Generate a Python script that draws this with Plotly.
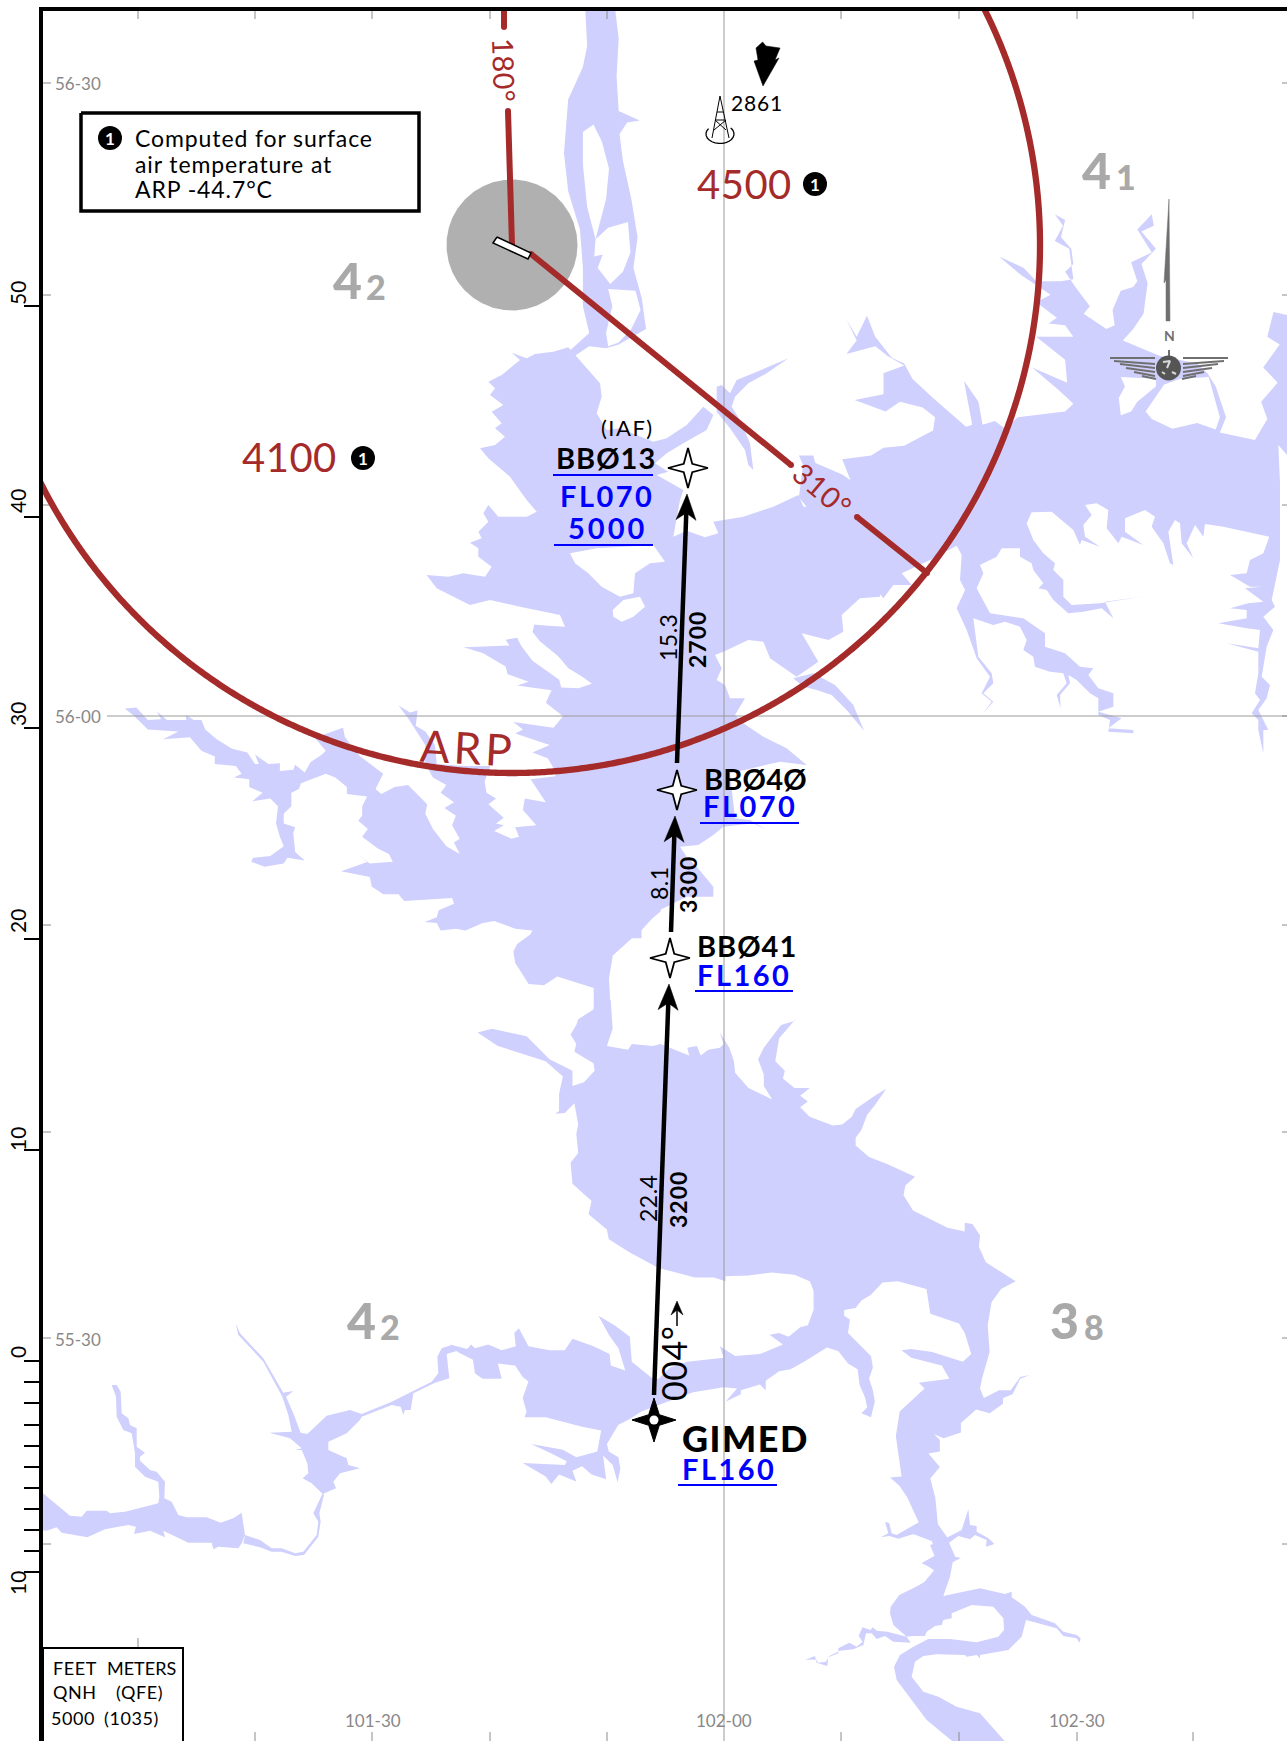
import math
import plotly.graph_objects as go

W, H = 1287, 1741
LAKE = "#CFD0FD"; BROWN = "#A52A2A"; BLUE = "#0000FF"; GREY = "#A9A9A9"; TICK = "#8C8C8C"
FONT = "Lato"

F1 = (0, 0, 2.376, 2.613)
F2 = (640, 0, 2.423, 2.613)
F6 = (620, 740, 3, 3)
F7 = (100, 500, 2.613, 2.613)
F8 = (450, 1000, 2.613, 2.613)
F9 = (30, 1250, 3, 3)
F10 = (800, 1240, 3, 3)
F11 = (850, 400, 3, 3)
F12 = (420, 340, 3, 3)

def z(f, pts):
    return [(f[0] + a / f[2], f[1] + b / f[3]) for a, b in pts]

north_channel = [(1390,10),(1460,10),(1470,100),(1465,200),(1470,290),(1520,315),(1490,320),(1472,350),(1480,420),(1500,520),(1515,620),(1505,700),(1525,780),(1535,860),(1470,900),(1440,910),(1400,905),(1365,930),(1355,915),(1400,870),(1385,800),(1385,700),(1378,600),(1350,500),(1340,400),(1350,260),(1385,175),(1395,120)]
north_isle_1 = [(1385,345),(1410,325),(1430,370),(1447,440),(1440,520),(1415,625),(1395,540),(1385,430)]
north_isle_2 = [(1415,625),(1445,595),(1492,580),(1498,660),(1480,710),(1450,742),(1420,700),(1432,665),(1412,670)]
north_isle_3 = [(1445,755),(1510,760),(1522,810),(1500,860),(1470,895),(1445,905),(1440,870),(1455,800)]

central = [(275,38),(320,55),(345,42),(400,35),(445,22),(470,50),(540,130),(545,170),(530,220),(560,270),(600,265),(700,305),(740,295),(800,255),(850,200),(880,225),(860,270),(790,310),(740,340),(705,370),(745,395),(710,405),(790,450),(780,480),(760,590),(800,572),(855,592),(895,580),(880,545),(970,530),(1060,500),(1135,465),(1150,500),(1380,500),(1380,770),(1320,775),(1265,825),(1270,875),(1225,900),(1145,880),(1195,965),(1130,1010),(1050,955),(1030,905),(985,900),(910,935),(885,945),(905,985),(890,1020),(915,1035),(930,1075),(975,1075),(945,1125),(970,1150),(1030,1190),(1100,1225),(1160,1275),(1050,1250),(900,1290),(850,1380),(520,1380),(520,1030),(445,985),(395,925),(345,855),(435,860),(420,825),(300,800),(210,780),(150,795),(50,745),(20,705),(85,710),(130,700),(195,710),(215,680),(175,650),(175,625),(150,608),(185,595),(175,575),(205,545),(190,520),(205,495),(235,530),(320,530),(350,515),(320,480),(270,410),(205,355),(180,325),(225,315),(255,290),(225,265),(245,250),(215,215),(250,195),(210,165),(225,145),(205,125),(245,105),(300,60)]
label_isle = [(450,640),(530,625),(700,615),(735,665),(690,670),(645,700),(640,760),(600,770),(545,740),(505,700),(465,670)]
round_isle = [(578,810),(610,780),(660,770),(675,800),(640,830),(605,845),(580,830)]
finger_north = [(890,140),(905,135),(930,160),(950,120),(1000,100),(1105,55),(1040,100),(985,130),(945,170),(935,200),(960,240),(990,310),(1000,390),(985,375),(975,330),(930,265),(890,215)]
finger_arc = [(1120,1015),(1180,1000),(1245,1035),(1300,1095),(1332,1172),(1280,1110),(1235,1065),(1190,1050),(1150,1040)]

west_central = [(1215,335),(1135,325),(1130,345),(1150,370),(1200,410),(1245,450),(1285,480),(1250,492),(1205,490),(1200,470),(1130,420),(1100,380),(1090,360),(1060,365),(1070,380),(950,385),(1000,400),(1060,435),(1065,455),(1120,475),(1090,485),(1180,497),(1165,530),(1210,565),(1185,595),(1080,580),(1105,600),(1085,610),(1175,640),(1130,660),(1170,675),(1185,700),(1190,722),(1125,730),(1165,790),(1110,780),(1105,810),(1140,850),(1085,855),(1095,880),(1075,885),(1030,865),(1055,850),(1035,845),(1055,830),(1015,795),(1035,780),(1010,765),(1005,735),(1020,695),(950,695),(880,690),(875,640),(850,605),(825,590),(830,550),(810,555),(780,537),(805,570),(825,600),(850,640),(850,690),(870,725),(905,745),(890,765),(925,790),(900,805),(930,825),(920,850),(940,885),(925,895),(940,925),(905,905),(870,860),(850,820),(855,795),(830,770),(805,745),(770,750),(735,768),(720,755),(740,715),(680,670),(640,620),(635,595),(580,615),(550,608),(590,655),(580,665),(550,685),(535,712),(510,692),(505,705),(470,708),(470,688),(440,690),(405,665),(415,690),(405,690),(385,660),(345,650),(305,625),(275,600),(265,575),(245,575),(225,562),(225,575),(175,575),(148,552),(160,573),(125,575),(95,542),(65,545),(90,565),(125,600),(205,605),(165,625),(235,620),(265,655),(300,670),(300,690),(355,695),(370,715),(350,725),(390,730),(390,750),(425,765),(398,787),(445,780),(465,800),(460,845),(470,880),(480,905),(445,930),(400,935),(395,945),(430,958),(480,950),(490,935),(535,942),(510,920),(505,870),(510,855),(480,845),(480,820),(500,800),(500,765),(520,755),(525,740),(590,715),(615,725),(645,750),(645,768),(698,775),(685,800),(685,825),(675,838),(700,860),(685,880),(725,910),(755,925),(765,945),(705,950),(670,925),(700,945),(630,970),(705,985),(710,1010),(740,1030),(780,1030),(795,1048),(920,1040),(925,1055),(885,1072),(880,1090),(848,1103),(880,1105),(890,1125),(930,1120),(955,1125),(1000,1105),(1030,1100),(1085,1120),(1130,1125),(1125,1135),(1090,1160),(1080,1180),(1085,1210),(1120,1265),(1160,1268),(1195,1245),(1290,1275),(1290,1340),(1335,1340),(1330,1250),(1340,1190),(1390,1145),(1415,1145),(1415,1115),(1465,1075),(1480,700),(1300,340)]
east_of_bb040 = [(0,615),(65,570),(120,510),(200,470),(280,470),(280,440),(230,380),(200,350),(180,320),(235,315),(280,285),(310,260),(400,250),(440,270),(390,240),(345,235),(330,100),(480,65),(558,75),(510,45),(450,10),(390,-5),(0,-100)]

east_north_shore = [(385,1300),(395,1215),(385,1190),(420,1190),(425,1210),(490,1240),(510,1255),(490,1200),(560,1190),(590,1170),(640,1165),(710,1125),(715,1090),(685,1065),(630,1050),(595,1075),(520,1045),(590,1030),(590,975),(640,955),(600,930),(570,905),(500,925),(525,890),(500,835),(525,880),(550,825),(570,880),(610,935),(640,950),(660,990),(710,1040),(790,1115),(805,1110),(785,995),(820,1050),(830,1110),(860,1100),(885,1120),(915,1090),(1030,1075),(1050,1055),(1015,1020),(950,960),(1035,1000),(1030,940),(960,880),(1050,880),(1030,850),(990,845),(1010,830),(960,790),(995,770),(925,720),(870,670),(930,700),(960,735),(1020,735),(1050,730),(1040,650),(1005,630),(1025,590),(1005,560),(1030,575),(1020,620),(1045,650),(1050,690),(1030,710),(1055,750),(1090,800),(1075,820),(1130,860),(1150,850),(1145,810),(1165,760),(1195,750),(1205,735),(1190,685),(1240,660),(1205,600),(1240,560),(1245,590),(1215,605),(1250,650),(1215,690),(1230,740),(1220,820),(1195,860),(1170,890),(1260,930),(1350,950),(1375,975),(1395,1010),(1420,1090),(1405,1130),(1490,1150),(1520,1095),(1505,1050),(1545,1000),(1510,960),(1550,900),(1520,880),(1535,815),(1575,825),(1575,1189)]
east_south_shore = [(1311,165),(1285,135),(1290,250),(1290,340),(1290,480),(1265,600),(1275,620),(1240,650),(1270,690),(1250,740),(1245,770),(1235,830),(1260,855),(1250,895),(1225,930),(1255,990),(1240,990),(1240,1060),(1225,990),(1225,960),(1205,940),(1230,900),(1215,880),(1225,820),(1225,755),(1130,730),(1225,745),(1230,690),(1190,685),(1105,670),(1190,655),(1190,630),(1140,625),(1195,610),(1240,605),(1185,565),(1235,560),(1200,560),(1140,525),(1190,520),(1200,480),(1240,460),(1258,410),(1120,380),(1065,372),(1060,410),(1035,375),(1010,430),(1030,475),(995,430),(990,370),(975,360),(955,395),(970,495),(960,490),(940,430),(905,380),(915,350),(885,330),(825,355),(825,395),(880,435),(815,410),(805,430),(770,385),(775,330),(740,310),(705,315),(725,345),(700,375),(705,410),(750,440),(695,420),(690,435),(670,390),(605,335),(545,337),(530,370),(550,420),(580,460),(615,490),(610,510),(640,540),(640,590),(665,615),(750,610),(875,590),(765,605),(790,655),(755,625),(700,635),(655,640),(610,600),(590,570),(565,565),(580,550),(550,510),(545,490),(510,470),(510,445),(455,445),(440,470),(390,495),(400,520),(380,565),(410,620),(420,640),(520,655),(585,700),(585,740),(645,760),(690,800),(730,805),(715,825),(745,865),(790,880),(790,920),(745,935),(815,955),(775,985),(850,990),(850,1000),(775,995),(780,960),(745,945),(745,895),(720,880),(680,840),(655,825),(660,850),(630,885),(632,925),(620,885),(650,850),(640,820),(600,815),(555,800),(550,770),(520,750),(530,720),(510,680),(465,665),(430,675),(370,655),(375,700),(385,770),(425,820),(430,850),(400,880),(430,905),(400,940),(425,905),(395,880),(420,830),(380,775),(350,690),(320,625),(345,570),(330,540),(335,465),(320,437),(245,478),(155,520),(185,555),(130,555),(100,595)]
east_isle_1 = [(1165,985),(1250,990),(1250,1010),(1205,1050),(1190,1075),(1165,1085),(1160,1040),(1175,1010)]
east_isle_2 = [(1225,1075),(1270,1005),(1310,990),(1378,985),(1405,1090),(1395,1122),(1350,1105),(1290,1120),(1240,1095)]

south_lake = [(380,0),(420,0),(425,75),(410,120),(465,130),(475,115),(530,120),(550,115),(625,145),(620,125),(645,120),(655,145),(675,130),(705,125),(715,115),(705,85),(730,125),(742,160),(745,190),(780,230),(842,260),(820,225),(820,195),(805,155),(820,125),(865,65),(900,55),(905,48),(860,100),(850,160),(875,185),(870,205),(900,230),(940,230),(915,250),(935,265),(915,280),(940,305),(1000,328),(1025,325),(1050,305),(1060,285),(1110,250),(1140,232),(1110,275),(1090,300),(1075,340),(1060,360),(1060,380),(1095,410),(1145,430),(1215,462),(1190,485),(1185,510),(1210,550),(1260,575),(1300,595),(1345,605),(1345,582),(1365,585),(1385,615),(1382,645),(1400,685),(1478,735),(1440,755),(1415,790),(1405,850),(1410,920),(1390,990),(1385,1015),(1395,1040),(1435,1020),(1465,1020),(1490,985),(1515,980),(1490,990),(1470,1030),(1445,1040),(1445,1055),(1410,1080),(1375,1070),(1335,1105),(1335,1130),(1290,1145),(1265,1135),(1280,1150),(1280,1180),(1250,1185),(1280,1220),(1255,1250),(1268,1300),(1275,1370),(1300,1405),(1305,1420),(1320,1455),(1335,1458),(1312,1470),(1300,1510),(1285,1555),(1165,1568),(1240,1520),(1265,1490),(1235,1470),(1270,1450),(1255,1400),(1225,1395),(1165,1400),(1225,1365),(1195,1300),(1175,1270),(1150,1248),(1180,1245),(1170,1180),(1165,1140),(1175,1075),(1240,1015),(1225,1000),(1305,990),(1285,955),(1205,935),(1180,915),(1205,912),(1260,920),(1340,945),(1362,925),(1345,870),(1330,845),(1255,820),(1245,755),(1170,735),(1130,738),(1100,770),(1075,785),(1060,805),(1030,810),(1030,825),(1045,835),(1040,870),(1100,930),(1105,960),(1095,990),(1105,1020),(1110,1050),(1100,1090),(1075,1080),(1090,1065),(1085,1040),(1070,1005),(1065,965),(1040,950),(1015,918),(985,908),(925,945),(890,965),(860,970),(825,995),(825,1020),(810,1005),(760,1020),(760,1030),(720,1050),(750,1015),(715,1012),(635,1025),(540,1060),(500,1075),(470,1095),(440,1110),(410,1160),(415,1180),(440,1195),(445,1225),(438,1260),(425,1215),(400,1190),(408,1252),(370,1240),(345,1218),(320,1230),(330,1258),(285,1240),(265,1265),(250,1245),(190,1210),(300,1215),(305,1205),(265,1185),(212,1160),(295,1175),(330,1195),(385,1180),(395,1125),(345,1115),(250,1090),(195,1090),(200,1075),(190,1040),(205,997),(190,985),(170,955),(125,950),(135,990),(85,990),(65,975),(60,940),(20,920),(0,900),(45,912),(55,900),(65,910),(100,900),(135,915),(172,905),(168,870),(180,858),(205,905),(260,915),(300,915),(320,885),(375,905),(417,925),(420,955),(458,968),(440,910),(415,875),(388,825),(430,850),(470,880),(475,945),(530,990),(545,990),(575,960),(620,945),(715,935),(705,905),(745,930),(810,925),(870,900),(835,875),(860,870),(885,880),(915,855),(935,850),(950,810),(950,760),(940,735),(900,718),(840,712),(780,720),(720,722),(720,735),(690,725),(640,725),(580,710),(545,700),(470,660),(415,625),(410,600),(362,560),(370,525),(320,480),(315,425),(335,400),(330,350),(335,325),(325,270),(300,295),(275,297),(285,290),(285,245),(295,200),(250,160),(125,120),(72,85),(110,75),(200,95),(260,155),(320,185),(320,225),(350,215),(378,185),(375,165),(325,135),(330,115),(315,90),(330,65),(335,50),(375,25)]
south_hook = [(430,1068),(540,1045),(615,1062),(635,1055),(635,1072),(675,1100),(695,1125),(765,1150),(790,1175),(830,1185),(842,1195),(838,1208),(830,1195),(790,1188),(770,1165),(678,1140),(665,1190),(625,1230),(540,1245),(540,1255),(530,1245),(500,1250),(495,1245),(440,1245),(410,1243),(370,1248),(345,1265),(335,1310),(370,1355),(415,1370),(470,1400),(540,1420),(620,1510),(465,1510),(380,1440),(335,1380),(290,1320),(282,1280),(300,1245),(340,1220),(385,1197),(450,1197),(530,1207),(595,1190),(612,1170),(610,1135),(580,1100),(515,1095),(455,1120),(455,1135),(430,1140),(425,1155),(405,1158),(380,1175),(375,1188),(340,1188),(320,1190),(280,1155),(270,1120),(272,1100),(298,1065),(385,1022),(408,990),(365,970),(405,950),(390,915),(440,900),(462,945),(450,1010)]
finger_sw = [(320,1190),(262,1175),(230,1172),(218,1162),(212,1170),(187,1162),(176,1188),(188,1205),(170,1220),(148,1208),(115,1225),(115,1240),(85,1252),(82,1278),(50,1268),(45,1248),(15,1260),(48,1258),(55,1268),(78,1265),(88,1248),(120,1232),(160,1228),(190,1215),(198,1180),(215,1180),(230,1197),(255,1188),(280,1205),(332,1208)]
finger_w = [(355,848),(290,885),(275,880),(268,850),(255,845),(265,880),(242,892),(268,888),(295,896),(340,882),(400,905),(400,850)]
finger_e = [(440,893),(485,870),(505,808),(510,855),(530,858),(530,875),(565,895),(583,912),(558,920),(560,900),(525,885),(510,898),(475,888),(447,908)]

sw_basin = [(617,220),(630,250),(700,325),(760,428),(790,423),(768,440),(790,490),(812,548),(832,552),(890,497),(960,480),(995,492),(1085,455),(1205,395),(1225,370),(1222,320),(1235,295),(1265,285),(1310,305),(1290,300),(1250,312),(1258,385),(1215,398),(1150,430),(1142,480),(1125,480),(1120,495),(1112,470),(1085,465),(995,500),(990,510),(950,550),(895,575),(895,600),(950,625),(955,645),(990,655),(930,670),(910,695),(918,715),(878,732),(845,700),(818,685),(835,670),(832,640),(815,600),(795,600),(815,595),(780,565),(718,548),(785,545),(775,495),(757,440),(700,335),(625,255)]
sw_river = [(645,855),(690,870),(725,895),(755,895),(795,910),(820,905),(860,855),(865,815),(850,790),(878,730),(882,735),(868,790),(872,815),(865,860),(822,915),(795,918),(755,905),(725,905),(690,892),(640,880)]
west_lake = [(245,405),(260,405),(272,425),(275,490),(295,505),(300,525),(320,535),(320,590),(345,608),(330,620),(330,632),(360,660),(380,665),(405,695),(403,745),(425,755),(445,795),(470,802),(530,802),(572,818),(610,805),(635,788),(645,855),(635,880),(625,895),(565,890),(550,898),(545,878),(475,878),(400,842),(405,862),(360,842),(312,852),(318,830),(295,825),(225,838),(172,862),(95,848),(80,832),(50,842),(30,840),(30,722),(120,797),(155,800),(170,782),(230,782),(240,790),(285,785),(385,760),(388,740),(385,695),(345,680),(315,650),(315,610),(305,550),(280,540),(260,500),(258,440)]

lake_pieces = [(F1,north_channel),(F12,central),(F7,west_central),(F6,east_of_bb040),(F8,south_lake),(F10,south_hook),(F10,finger_sw),(F10,finger_w),(F10,finger_e),(F9,sw_basin),(F9,sw_river),(F9,west_lake)]
land_pieces = [(F1,north_isle_1),(F1,north_isle_2),(F1,north_isle_3),(F12,label_isle),(F12,round_isle),(F2,east_isle_1),(F2,east_isle_2)]
inlet_pieces = [(F12,finger_north),(F12,finger_arc)]
east_lake = z(F2, east_north_shore) + z(F11, east_south_shore)

# Graticule
lat_marks = [83, 295, 505, 716, 925, 1132, 1338, 1544]
lon_marks = [138, 255, 372, 490, 607, 841, 959, 1077, 1193]
top_marks = lon_marks
lat_labels = ["56-30", "56-00", "55-30"]
lat_label_y = [83, 716, 1339]
lon_labels = ["101-30", "102-00", "102-30"]
lon_label_x = [373, 724, 1077]
var_labels = ["50", "40", "30", "20", "10", "0", "10"]
var_label_y = [293, 501, 714, 921, 1139, 1352, 1583]
var_ticks = [306, 517, 728, 939, 1150] + [1361, 1382, 1403, 1425, 1446, 1467, 1488, 1509, 1530, 1551, 1572]

# Minimum safe altitude sector
arp_center = (512, 245); arp_radius = 528; disc_radius = 65.5
runway = [(497,237),(531,253),(528,259),(493,243)]
radial_180_a = [(504,8),(504,27)]
radial_180_b = [(508,111),(512,245)]
radial_310_a = [(531,254),(791,465)]
radial_310_b = [(857,517),(927,573)]

# Route
gimed = (654, 1420)
fix_names = ["BB013", "BB040", "BB041"]
fix_x = [688, 677, 670]
fix_y = [468, 790, 958]
leg_from = [(654,1395),(671,932),(677,763)]
leg_to = [(669,984),(675,816),(687,494)]

fig = go.Figure()

def poly(pts, fill, line=None, lw=0):
    fig.add_trace(go.Scatter(x=[p[0] for p in pts] + [pts[0][0]], y=[p[1] for p in pts] + [pts[0][1]],
        mode="lines", fill="toself", fillcolor=fill, line=dict(color=line or fill, width=lw),
        hoverinfo="skip", showlegend=False))

def path(pts, color, w):
    fig.add_trace(go.Scatter(x=[p[0] if p else None for p in pts], y=[p[1] if p else None for p in pts],
        mode="lines", line=dict(color=color, width=w, simplify=False), hoverinfo="skip", showlegend=False))

for f, p in lake_pieces:
    poly(z(f, p), LAKE)
poly(east_lake, LAKE)
for f, p in land_pieces:
    poly(z(f, p), "#FFFFFF")
for f, p in inlet_pieces:
    poly(z(f, p), LAKE)

# grid lines and short ticks
grid = [(724, 10), (724, H), None, (107, 716), (W, 716)]
path(grid, "#9A9A9A", 1)
small = []
for v in lat_marks:
    if v != 716:
        small += [(43, v), (51, v), None]
    small += [(1282, v), (W, v), None]
for v in top_marks:
    small += [(v, 10), (v, 19), None]
for v in lon_marks[1:]:
    small += [(v, 1732), (v, H), None]
small += [(138, 1638), (138, 1648)]
path(small, TICK, 1)

def round_pts(c, r, n=1440):
    return [(c[0] + r*math.cos(2*math.pi*i/n), c[1] + r*math.sin(2*math.pi*i/n)) for i in range(n + 1)]

# Disc, radials, circle
disc = round_pts(arp_center, disc_radius, 360)
poly(disc, "#B0B0B0")
ring = round_pts(arp_center, arp_radius)
path(ring, BROWN, 6.3)
for seg in (radial_180_a, radial_180_b, radial_310_a, radial_310_b):
    fig.add_trace(go.Scatter(x=[p[0] for p in seg], y=[p[1] for p in seg], mode="lines+markers", line=dict(color=BROWN, width=6),
                  marker=dict(color=BROWN, size=6), hoverinfo="skip", showlegend=False))
poly(runway, "#FFFFFF", "#000000", 1.5)

def arrow(tip, tail, length=26, half=10, notch=18, color="black"):
    dx, dy = tip[0]-tail[0], tip[1]-tail[1]
    n = math.hypot(dx, dy); dx, dy = dx/n, dy/n
    px, py = -dy, dx
    pts = [tip, (tip[0]-dx*length+px*half, tip[1]-dy*length+py*half),
           (tip[0]-dx*notch, tip[1]-dy*notch),
           (tip[0]-dx*length-px*half, tip[1]-dy*length-py*half)]
    poly(pts, color, color, 0.5)

for a, b in zip(leg_from, leg_to):
    d = math.hypot(a[0]-b[0], a[1]-b[1])
    ex = (b[0] + (a[0]-b[0])*15/d, b[1] + (a[1]-b[1])*15/d)
    path([a, ex], "black", 4.5)
    arrow(b, a, length=26, half=10, notch=19)

def star(c, r, inner):
    pts = []
    for i in range(8):
        ang = math.radians(i * 45)
        rr = r if i % 2 == 0 else inner
        pts.append((c[0] + rr*math.cos(ang), c[1] + rr*math.sin(ang)))
    return pts

for cx, cy in zip(fix_x, fix_y):
    poly(star((cx, cy), 20, 6), "#FFFFFF", "#000000", 1.8)
poly(star(gimed, 22, 7.5), "#000000", "#000000", 1)
fig.add_trace(go.Scatter(x=[gimed[0]], y=[gimed[1]], mode="markers", marker=dict(color="white", size=9), hoverinfo="skip", showlegend=False))

# 004 small arrow
path([(677, 1326), (677, 1310)], "black", 1.5)
arrow((677, 1301), (677, 1326), length=14, half=6, notch=9)

# Altitude underlines
rules = [(553,475),(653,475),None,(554,545),(653,545),None,(700,823),(799,823),None,(695,991),(793,991),None,(678,1485),(777,1485)]
path(rules, BLUE, 2.2)

# Obstacle arrow and tower
obstacle = [(762.6,42),(766,46),(780,48),(775,60),(779,58),(763,86),(754,61),(758,60),(756,48)]
poly(obstacle, "#000000", "#000000", 0.5)
tower = [(712,138),(720,96),(729,138),None,(716,120),(725,120),None,(714,130),(726,120),None,(726,130),(715,120),None,(717,112),(723,112)]
path(tower, "black", 1)
ell = [(720+14*math.cos(math.radians(a)), 134+9.5*math.sin(math.radians(a))) for a in range(-40, 225, 15)]
path(ell, "black", 1.3)

# North arrow
NGREY = "#707070"
needle = [(1169,199),(1170,321),(1166,321),(1166,280),(1164,283)]
poly(needle, NGREY, NGREY, 0.5)
wings = [(1110,358),(1155,358),None,(1114,361),(1155,364),None,(1120,364),(1155,368),None,(1126,368),(1155,372),None,(1134,372),(1155,376),None,(1142,376),(1156,379),None,
         (1228,358),(1183,358),None,(1224,361),(1183,364),None,(1218,364),(1183,368),None,(1212,368),(1183,372),None,(1204,372),(1183,376),None,(1196,376),(1182,379),None,(1169,350),(1169,358)]
path(wings, NGREY, 2)
fig.add_trace(go.Scatter(x=[1168.5], y=[368], mode="markers", marker=dict(color="#555555", size=25), hoverinfo="skip", showlegend=False))
globe_land = [(1163,362),(1170,361),(1167,368),None,(1172,372),(1176,374),None,(1162,372),(1165,374)]
path(globe_land, "#D8D8D8", 2)

# Note boxes
note_box = [(81,113),(419,113),(419,211),(81,211)]
poly(note_box, "#FFFFFF", "#000000", 3.5)
legend_box = [(43,1648),(183,1648),(183,1745),(43,1745)]
poly(legend_box, "#FFFFFF", "#000000", 2)

# Numbered badges
badge_x = [110, 363, 815]; badge_y = [138, 458, 184]
fig.add_trace(go.Scatter(x=badge_x, y=badge_y, mode="markers", marker=dict(color="black", size=24), hoverinfo="skip", showlegend=False))

def T(text, x, y, size, color="black", bold=False, spacing=0, angle=0, anchor="center", weight=None):
    t = text
    if spacing:
        t = f'<span style="letter-spacing:{spacing}px">{text}</span>'
    if x < 43:
        xv, xr = (x - 43) / (W - 43), "paper"
    else:
        xv, xr = x, "x"
    fig.add_annotation(x=xv, y=y, xref=xr, yref="y", text=t, showarrow=False, textangle=angle, xanchor=anchor, yanchor="middle",
                       font=dict(family=FONT, size=size, color=color, weight=weight or (700 if bold else 400)))

for bx, by in zip(badge_x, badge_y):
    T("1", bx, by, 17, "white", bold=True)

T("Computed for surface", 133, 138, 23, spacing=0.9, anchor="left")
T("air temperature at", 133, 164, 23, spacing=0.9, anchor="left")
T("ARP -44.7°C", 133, 189, 23, spacing=0.9, anchor="left")

T("FEET", 51, 1668, 18, spacing=0.6, anchor="left")
T("METERS", 105, 1668, 18, anchor="left")
T("QNH", 51, 1692, 18, spacing=0.6, anchor="left")
T("(QFE)", 114, 1692, 18, spacing=0.6, anchor="left")
T("5000", 49, 1718, 18, spacing=0.6, anchor="left")
T("(1035)", 102, 1718, 18, spacing=0.6, anchor="left")

T("4100", 289, 457, 40, BROWN, spacing=0.5)
T("4500", 744, 184, 40, BROWN, spacing=0.5)
T("ARP", 468, 747, 44, BROWN, spacing=4, angle=3)
T("180°", 505, 70, 29, BROWN, spacing=0.5, angle=88)
T("310°", 823, 489, 29, BROWN, spacing=1, angle=40)
T("2861", 757, 102, 21, spacing=0.8)
T("N", 1169, 335, 14, NGREY, bold=True)

# Grid MORA digits
mora_big = ["4", "4", "4", "3"]
mora_big_x = [347, 1096, 361, 1064]
mora_big_y = [280, 170, 1320, 1320]
mora_small = ["2", "1", "2", "8"]
mora_small_x = [376, 1126, 390, 1094]
mora_small_y = [286, 176, 1326, 1326]
for t, x, y in zip(mora_big, mora_big_x, mora_big_y):
    T(t, x, y, 50, GREY, weight=900)
for t, x, y in zip(mora_small, mora_small_x, mora_small_y):
    T(t, x, y, 34, GREY, weight=900)

T("(IAF)", 627, 427, 22, spacing=1.5)
T("BBØ13", 606, 457, 29, bold=True, spacing=1)
T("FL070", 607, 495, 29, BLUE, bold=True, spacing=2.5)
T("5000", 607, 527, 29, BLUE, bold=True, spacing=3)
T("BBØ4Ø", 755, 778, 29, bold=True, spacing=0.2)
T("FL070", 750, 805, 29, BLUE, bold=True, spacing=2.5)
T("BBØ41", 747, 945, 29, bold=True, spacing=1)
T("FL160", 744, 974, 29, BLUE, bold=True, spacing=2.5)
T("GIMED", 745, 1438, 36, spacing=1.5, weight=900)
T("FL160", 729, 1468, 29, BLUE, bold=True, spacing=2.5)

T("15.3", 668, 638, 23, spacing=0.5, angle=-90)
T("2700", 697, 640, 23, bold=True, spacing=1, angle=-90)
T("8.1", 659, 883, 23, spacing=0.5, angle=-90)
T("3300", 688, 885, 23, bold=True, spacing=1, angle=-90)
T("22.4", 648, 1199, 23, spacing=0.5, angle=-90)
T("3200", 678, 1200, 23, bold=True, spacing=1, angle=-90)
T("004°", 673, 1364, 34, spacing=0.5, angle=-90)

for t, y in zip(lat_labels, lat_label_y):
    T(t, 53, y, 17, "#888888", anchor="left")
for t, x in zip(lon_labels, lon_label_x):
    T(t, x, 1720, 17, "#888888")
for t, y in zip(var_labels, var_label_y):
    T(t, 17, y, 21, "black", angle=-90)

axis = dict(showgrid=False, zeroline=False)
fig.update_layout(
    width=W, height=H, autosize=False, paper_bgcolor="white", plot_bgcolor="white",
    margin=dict(l=43, r=0, t=11, b=0), showlegend=False,
    xaxis=dict(range=[43, W], showticklabels=False, ticks="", showline=True, linecolor="black", linewidth=4, side="top", **axis),
    yaxis=dict(range=[H, 11], tickmode="array", tickvals=var_ticks, showticklabels=False, ticks="outside", ticklen=15, tickwidth=2, tickcolor="black",
               showline=True, linecolor="black", linewidth=4, **axis),
)

fig.write_html("out.html", config={"displayModeBar": False},
               post_script="document.body.style.margin='0';document.documentElement.style.overflow='hidden';")
